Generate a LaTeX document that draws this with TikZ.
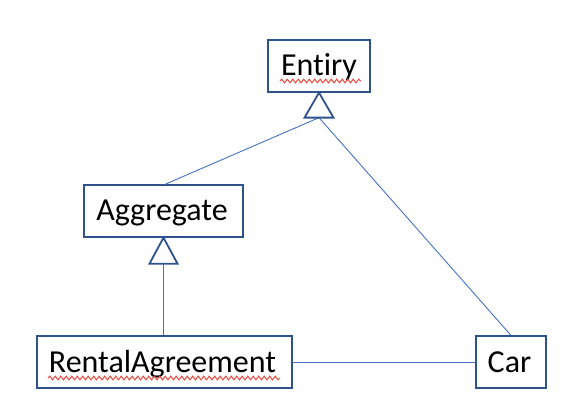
\documentclass[tikz,border=0pt]{standalone}
\usepackage{fontspec}
\setmainfont[Ligatures=CommonOff]{Carlito}
\usetikzlibrary{decorations.pathmorphing}
\definecolor{boxblue}{HTML}{2F528F}
\definecolor{lineblue}{HTML}{4472C4}
\definecolor{squig}{HTML}{E8473A}
\tikzset{
  cls/.style={draw=boxblue, line width=1.3pt, inner sep=0pt, rectangle,
    font=\fontsize{32}{38}\selectfont, text height=20pt, text depth=0pt},
  conn/.style={draw=lineblue, line width=0.9pt},
  tri/.style={draw=boxblue, line width=1.8pt, fill=white, line join=miter},
  spell/.style={draw=squig, line width=1pt, decorate,
    decoration={snake, amplitude=1.8pt, segment length=5.5pt}}
}
\begin{document}
\begin{tikzpicture}[x=1pt,y=-1pt]
\useasboundingbox (0,0) rectangle (586,414);
\node[cls, minimum width=102pt, minimum height=52pt] (ent) at (319,66) {Entiry};
\node[cls, minimum width=159pt, minimum height=52pt] (agg) at (163.5,211) {\kern-3pt Aggregate};
\node[cls, minimum width=255pt, minimum height=52pt] (ra) at (164.5,362) {\kern-4pt RentalAgreement};
\node[cls, minimum width=70pt, minimum height=52pt] (car) at (511,362) {\kern-3pt Car};
% inheritance triangles
\coordinate (etb) at ([yshift=-25pt]ent.south);
\coordinate (atb) at ([yshift=-26pt]agg.south);
% connectors
\draw[conn] ([xshift=1.5pt]agg.north) -- (etb);
\draw[conn] (car.north) -- (etb);
\draw[conn] (atb) -- (atb |- ra.north);
\draw[conn] (ra.east) -- (car.west);
\draw[tri] (ent.south) -- ([xshift=-14.5pt]etb) -- ([xshift=14.5pt]etb) -- cycle;
\draw[tri] (agg.south) -- ([xshift=-14pt]atb) -- ([xshift=14pt]atb) -- cycle;
% spell-check underlines
\coordinate (s1a) at (280,81);
\coordinate (s1b) at (361,81);
\coordinate (s2a) at (48,378);
\coordinate (s2b) at (280,378);
\draw[spell] (s1a) -- (s1b);
\draw[spell] (s2a) -- (s2b);
\end{tikzpicture}
\end{document}
